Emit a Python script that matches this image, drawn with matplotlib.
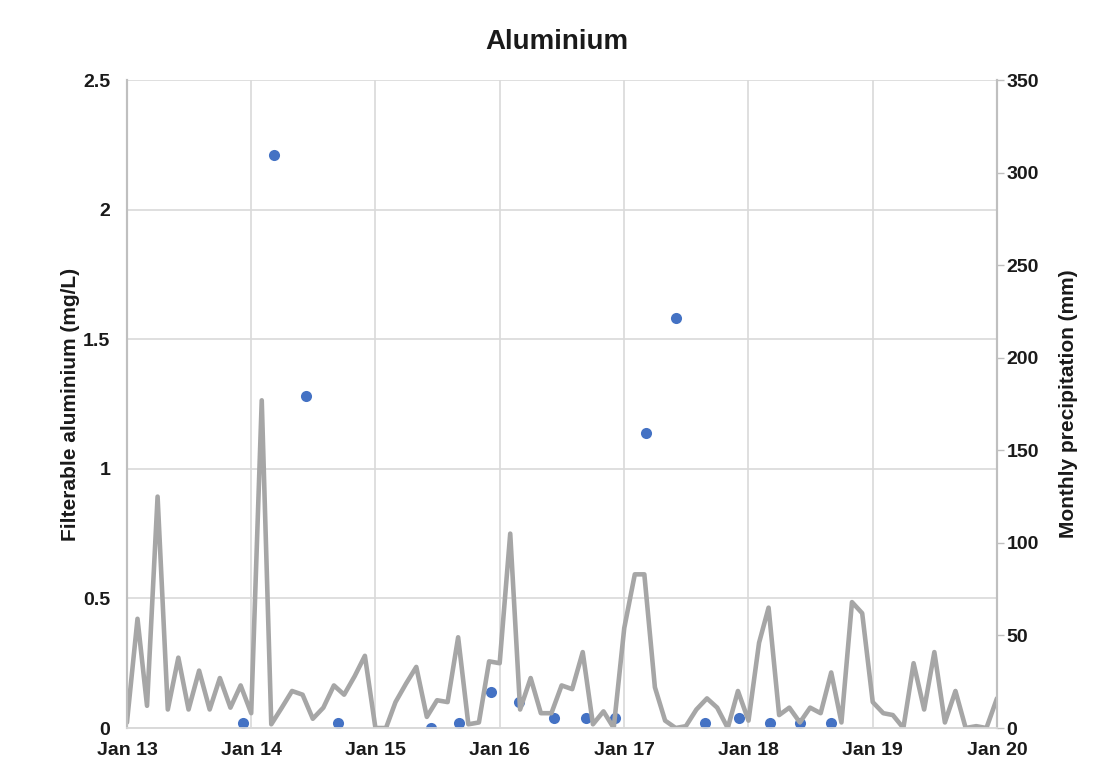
import matplotlib
matplotlib.use("Agg")
import matplotlib.pyplot as plt
import matplotlib.dates as mdates
import numpy as np
import pandas as pd

plt.rcParams['font.family'] = ['Liberation Sans', 'DejaVu Sans']

# Monthly precipitation (mm), Jan 2013 .. Jan 2020
precip_start = "2013-01-01"
precip_mm = [
    3, 59, 12, 125, 10, 38, 10, 31, 10, 27, 11, 23,
    8, 177, 2, 11, 20, 18, 5, 11, 23, 18, 28, 39,
    0, 0, 14, 24, 33, 6, 15, 14, 49, 2, 3, 36,
    35, 105, 10, 27, 8, 8, 23, 21, 41, 2, 9, 0,
    54, 83, 83, 22, 4, 0, 1, 10, 16, 11, 0, 20,
    4, 46, 65, 7, 11, 3, 11, 8, 30, 3, 68, 62,
    14, 8, 7, 0, 35, 10, 41, 3, 20, 0, 1, 0,
    16,
]

# Filterable aluminium samples (mg/L)
sample_dates = [
    "2013-12-09", "2014-03-09", "2014-06-10", "2014-09-13",
    "2015-06-13", "2015-09-04", "2015-12-07", "2016-02-28",
    "2016-06-10", "2016-09-10", "2016-12-04", "2017-03-07",
    "2017-06-01", "2017-08-25", "2017-12-04", "2018-03-04",
    "2018-06-01", "2018-09-01",
]
aluminium = [
    0.02, 2.21, 1.28, 0.02,
    0.00, 0.02, 0.14, 0.10,
    0.04, 0.04, 0.04, 1.14,
    1.58, 0.02, 0.04, 0.02,
    0.02, 0.02,
]

title = "Aluminium"
left_label = "Filterable aluminium (mg/L)"
right_label = "Monthly precipitation (mm)"
left_ticks = [0, 0.5, 1, 1.5, 2, 2.5]
left_tick_labels = ["0", "0.5", "1", "1.5", "2", "2.5"]
right_ticks = [0, 50, 100, 150, 200, 250, 300, 350]
year_ticks = ["2013", "2014", "2015", "2016", "2017", "2018", "2019", "2020"]

precip_dates = pd.date_range(precip_start, periods=len(precip_mm), freq="MS")
sample_dt = pd.to_datetime(sample_dates)
year_dt = pd.to_datetime([y + "-01-01" for y in year_ticks])

grid_c = "#d9d9d9"
spine_c = "#bfbfbf"
text_c = "#1a1a1a"

fig = plt.figure(figsize=(11.02, 7.73), dpi=100)
ax = fig.add_axes([0.1152, 0.0582, 0.7895, 0.8383])
ax2 = ax.twinx()

# aluminium points on the primary axis
ax.plot(sample_dt, aluminium, linestyle="none", marker="o", markersize=8,
        color="#4472c4", markeredgewidth=0, zorder=3)
ax.set_ylim(0, 2.5)
ax.set_yticks(left_ticks)
ax.set_yticklabels(left_tick_labels)
ax.set_xlim(year_dt[0], year_dt[-1])
ax.set_xticks(year_dt)
ax.xaxis.set_major_formatter(mdates.DateFormatter("Jan %y"))
ax.grid(True, color=grid_c, linewidth=1.2)
ax.set_axisbelow(True)

# precipitation line on the secondary axis
ax2.plot(precip_dates, precip_mm, color="#a6a6a6", linewidth=3.3,
         solid_joinstyle="round", solid_capstyle="round", zorder=2)
ax2.set_ylim(0, 350)
ax2.set_yticks(right_ticks)
ax2.set_xlim(year_dt[0], year_dt[-1])

for a in (ax, ax2):
    a.spines["top"].set_visible(False)
    a.spines["left"].set_color(spine_c)
    a.spines["right"].set_color(spine_c)
    a.spines["bottom"].set_color(grid_c)
    a.spines["left"].set_linewidth(1.5)
    a.spines["right"].set_linewidth(1.5)
    a.spines["bottom"].set_linewidth(1.2)

ax.tick_params(axis="y", length=0, pad=12, labelsize=14, labelcolor=text_c)
ax.tick_params(axis="x", length=0, pad=10, labelsize=14, labelcolor=text_c)
ax2.tick_params(axis="y", length=5, width=1, color=spine_c, pad=2,
                labelsize=14, labelcolor=text_c)
for lbl in ax.get_xticklabels() + ax.get_yticklabels() + ax2.get_yticklabels():
    lbl.set_fontweight("bold")

ax.set_ylabel(left_label, fontsize=15, fontweight="bold", color=text_c, labelpad=2)
ax2.set_ylabel(right_label, fontsize=15, fontweight="bold", color=text_c, labelpad=14)

fig.text(0.505, 0.946, title, ha="center", va="center", fontsize=20,
         fontweight="bold", color=text_c)

fig.savefig("out.png", dpi=100, facecolor="white")
